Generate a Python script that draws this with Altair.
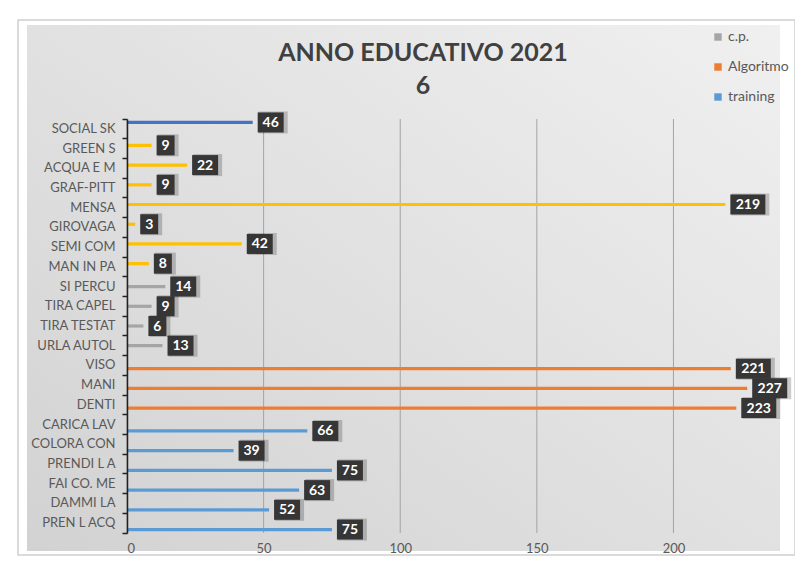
import altair as alt
import pandas as pd

categories = ["SOCIAL SK", "GREEN S", "ACQUA E M", "GRAF-PITT", "MENSA", "GIROVAGA",
              "SEMI COM", "MAN IN PA", "SI PERCU", "TIRA CAPEL", "TIRA TESTAT",
              "URLA AUTOL", "VISO", "MANI", "DENTI", "CARICA LAV", "COLORA CON",
              "PRENDI L A", "FAI CO. ME", "DAMMI LA", "PREN L ACQ"]
values = [46, 9, 22, 9, 219, 3, 42, 8, 14, 9, 6, 13, 221, 227, 223, 66, 39, 75, 63, 52, 75]
series = ["social", "autonomia", "autonomia", "autonomia", "autonomia", "autonomia",
          "autonomia", "autonomia", "c.p.", "c.p.", "c.p.", "c.p.",
          "Algoritmo", "Algoritmo", "Algoritmo",
          "training", "training", "training", "training", "training", "training"]
series_order = ["social", "autonomia", "c.p.", "Algoritmo", "training"]
series_colors = ["#4472C4", "#FFC000", "#A5A5A5", "#ED7D31", "#5B9BD5"]
legend_entries = ["c.p.", "Algoritmo", "training"]
x_ticks = [0, 50, 100, 150, 200]
title_lines = ["ANNO EDUCATIVO 2021", "6"]

df = pd.DataFrame({"cat": categories, "value": values, "series": series})
ticks_df = pd.DataFrame({"value": x_ticks})
one = pd.DataFrame({"a": [0]})

W, H = 653, 414
FONT = "Lato"

xscale = alt.Scale(domain=[0, 239], nice=False, zero=True)
yscale = alt.Scale(domain=categories, paddingInner=0, paddingOuter=0)
offscale = alt.Scale(domain=series_order, paddingInner=0, paddingOuter=0.58)

xaxis = alt.Axis(title=None, values=x_ticks, grid=False, ticks=False, domain=False,
                 labelFont=FONT, labelFontSize=13, labelColor="#595959",
                 labelPadding=9, zindex=1)
yaxis = alt.Axis(title=None, bandPosition=1, tickExtra=True, tickSize=5,
                 tickColor="#222222", tickWidth=1.5, domainColor="#222222",
                 domainWidth=1.5, labelPadding=7, labelFont=FONT, labelFontSize=13,
                 labelColor="#595959", grid=False, zindex=1)


def X():
    return alt.X("value:Q", scale=xscale, axis=xaxis)


def Y():
    return alt.Y("cat:N", scale=yscale, sort=categories, axis=yaxis)


def YO():
    return alt.YOffset("series:N", scale=offscale, sort=series_order)


frame = alt.Chart(one).mark_rect(fill="white", stroke="#cfcfcf", strokeWidth=1.5).encode(
    x=alt.value(-109), x2=alt.value(668), y=alt.value(-99), y2=alt.value(436))

panel = alt.Chart(one).mark_rect(
    color=alt.Gradient(gradient="linear",
                       stops=[alt.GradientStop(color="#f0f0f0", offset=0),
                              alt.GradientStop(color="#d2d2d2", offset=1)],
                       x1=1, y1=0, x2=0, y2=1)
).encode(x=alt.value(-100), x2=alt.value(653), y=alt.value(-94), y2=alt.value(432))

title = alt.Chart(one).mark_text(
    text=title_lines, font=FONT, fontSize=25, fontWeight="bold", color="#404040",
    align="center", baseline="top", lineHeight=33
).encode(x=alt.value(296), y=alt.value(-78))

grid = alt.Chart(ticks_df).mark_rule(color="#a3a3a3", strokeWidth=1).encode(
    x=X(), y=alt.value(0), y2=alt.value(H))

bars = alt.Chart(df).mark_bar().encode(
    x=X(), y=Y(), yOffset=YO(),
    color=alt.Color("series:N", sort=series_order,
                    scale=alt.Scale(domain=series_order, range=series_colors),
                    legend=alt.Legend(orient="none", legendX=584, legendY=-89,
                                      values=legend_entries, title=None,
                                      symbolType="square", symbolSize=55,
                                      symbolStrokeWidth=0, labelFont=FONT,
                                      labelFontSize=14, labelColor="#595959",
                                      labelOffset=3, rowPadding=16)))

layers = [frame, panel, title, grid, bars]
for nd, w in [(1, 18), (2, 26), (3, 35)]:
    sub = alt.Chart(df).transform_filter(f"length(toString(datum.value)) == {nd}")
    shadow = sub.mark_bar(color="#000000", opacity=0.2, height=22,
                          xOffset=6, x2Offset=6 + w + 3).encode(
        x=X(), x2="value:Q", y=Y(), yOffset=YO())
    box = sub.mark_bar(color="#363636", height=20, xOffset=5, x2Offset=5 + w).encode(
        x=X(), x2="value:Q", y=Y(), yOffset=YO())
    txt = sub.mark_text(align="center", baseline="middle", dx=5 + w / 2, dy=0.5,
                        color="white", font=FONT, fontWeight="bold",
                        fontSize=14).encode(
        x=X(), y=Y(), yOffset=YO(), text="value:Q")
    layers += [shadow, box, txt]

chart = alt.layer(*layers).properties(
    width=W, height=H,
    autosize=alt.AutoSizeParams(type="none"),
    padding={"left": 119, "top": 111, "right": 15, "bottom": 28},
).configure_view(stroke=None, fill=None).configure(background="white")

chart.save("out.html", embed_options={"renderer": "svg", "actions": False})
